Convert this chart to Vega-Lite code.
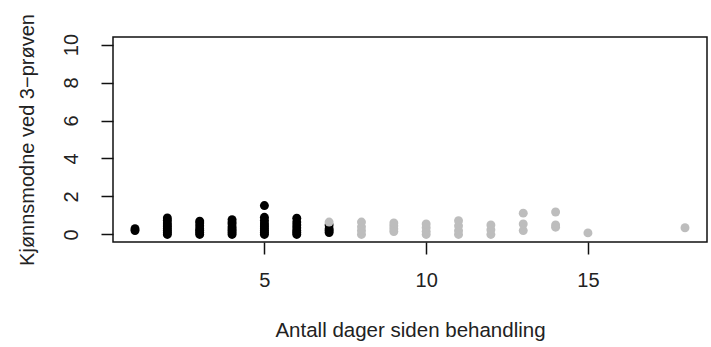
{
  "$schema": "https://vega.github.io/schema/vega-lite/v6.json",
  "width": 594,
  "height": 205,
  "autosize": {"type": "none"},
  "padding": {"left": 113, "top": 37, "right": 4, "bottom": 105},
  "background": "white",
  "config": {
    "view": {"stroke": "#111", "strokeWidth": 1.5},
    "font": "Liberation Sans"
  },
  "data": {
    "values": [
      {"dag": 1, "verdi": 0.2, "gruppe": "a"},
      {"dag": 1, "verdi": 0.3, "gruppe": "a"},
      {"dag": 2, "verdi": 0, "gruppe": "a"},
      {"dag": 2, "verdi": 0.1, "gruppe": "a"},
      {"dag": 2, "verdi": 0.2, "gruppe": "a"},
      {"dag": 2, "verdi": 0.3, "gruppe": "a"},
      {"dag": 2, "verdi": 0.4, "gruppe": "a"},
      {"dag": 2, "verdi": 0.5, "gruppe": "a"},
      {"dag": 2, "verdi": 0.6, "gruppe": "a"},
      {"dag": 2, "verdi": 0.75, "gruppe": "a"},
      {"dag": 2, "verdi": 0.87, "gruppe": "a"},
      {"dag": 3, "verdi": 0, "gruppe": "a"},
      {"dag": 3, "verdi": 0.1, "gruppe": "a"},
      {"dag": 3, "verdi": 0.2, "gruppe": "a"},
      {"dag": 3, "verdi": 0.3, "gruppe": "a"},
      {"dag": 3, "verdi": 0.45, "gruppe": "a"},
      {"dag": 3, "verdi": 0.6, "gruppe": "a"},
      {"dag": 3, "verdi": 0.7, "gruppe": "a"},
      {"dag": 4, "verdi": 0, "gruppe": "a"},
      {"dag": 4, "verdi": 0.1, "gruppe": "a"},
      {"dag": 4, "verdi": 0.2, "gruppe": "a"},
      {"dag": 4, "verdi": 0.3, "gruppe": "a"},
      {"dag": 4, "verdi": 0.4, "gruppe": "a"},
      {"dag": 4, "verdi": 0.55, "gruppe": "a"},
      {"dag": 4, "verdi": 0.65, "gruppe": "a"},
      {"dag": 4, "verdi": 0.78, "gruppe": "a"},
      {"dag": 5, "verdi": 0, "gruppe": "a"},
      {"dag": 5, "verdi": 0.1, "gruppe": "a"},
      {"dag": 5, "verdi": 0.2, "gruppe": "a"},
      {"dag": 5, "verdi": 0.3, "gruppe": "a"},
      {"dag": 5, "verdi": 0.4, "gruppe": "a"},
      {"dag": 5, "verdi": 0.5, "gruppe": "a"},
      {"dag": 5, "verdi": 0.6, "gruppe": "a"},
      {"dag": 5, "verdi": 0.75, "gruppe": "a"},
      {"dag": 5, "verdi": 0.9, "gruppe": "a"},
      {"dag": 5, "verdi": 1.52, "gruppe": "a"},
      {"dag": 6, "verdi": 0, "gruppe": "a"},
      {"dag": 6, "verdi": 0.1, "gruppe": "a"},
      {"dag": 6, "verdi": 0.2, "gruppe": "a"},
      {"dag": 6, "verdi": 0.35, "gruppe": "a"},
      {"dag": 6, "verdi": 0.5, "gruppe": "a"},
      {"dag": 6, "verdi": 0.65, "gruppe": "a"},
      {"dag": 6, "verdi": 0.85, "gruppe": "a"},
      {"dag": 7, "verdi": 0.1, "gruppe": "a"},
      {"dag": 7, "verdi": 0.2, "gruppe": "a"},
      {"dag": 7, "verdi": 0.3, "gruppe": "a"},
      {"dag": 7, "verdi": 0.5, "gruppe": "a"},
      {"dag": 7, "verdi": 0.65, "gruppe": "b"},
      {"dag": 8, "verdi": 0, "gruppe": "b"},
      {"dag": 8, "verdi": 0.2, "gruppe": "b"},
      {"dag": 8, "verdi": 0.4, "gruppe": "b"},
      {"dag": 8, "verdi": 0.65, "gruppe": "b"},
      {"dag": 9, "verdi": 0.15, "gruppe": "b"},
      {"dag": 9, "verdi": 0.3, "gruppe": "b"},
      {"dag": 9, "verdi": 0.45, "gruppe": "b"},
      {"dag": 9, "verdi": 0.6, "gruppe": "b"},
      {"dag": 10, "verdi": 0, "gruppe": "b"},
      {"dag": 10, "verdi": 0.15, "gruppe": "b"},
      {"dag": 10, "verdi": 0.35, "gruppe": "b"},
      {"dag": 10, "verdi": 0.55, "gruppe": "b"},
      {"dag": 11, "verdi": 0, "gruppe": "b"},
      {"dag": 11, "verdi": 0.2, "gruppe": "b"},
      {"dag": 11, "verdi": 0.45, "gruppe": "b"},
      {"dag": 11, "verdi": 0.72, "gruppe": "b"},
      {"dag": 12, "verdi": 0, "gruppe": "b"},
      {"dag": 12, "verdi": 0.25, "gruppe": "b"},
      {"dag": 12, "verdi": 0.5, "gruppe": "b"},
      {"dag": 13, "verdi": 0.2, "gruppe": "b"},
      {"dag": 13, "verdi": 0.55, "gruppe": "b"},
      {"dag": 13, "verdi": 1.12, "gruppe": "b"},
      {"dag": 14, "verdi": 0.38, "gruppe": "b"},
      {"dag": 14, "verdi": 0.5, "gruppe": "b"},
      {"dag": 14, "verdi": 1.18, "gruppe": "b"},
      {"dag": 15, "verdi": 0.08, "gruppe": "b"},
      {"dag": 18, "verdi": 0.35, "gruppe": "b"}
    ]
  },
  "mark": {"type": "circle", "size": 80, "opacity": 1},
  "encoding": {
    "x": {
      "field": "dag",
      "type": "quantitative",
      "scale": {"domain": [0.32, 18.68], "nice": false, "zero": false},
      "axis": {
        "title": "Antall dager siden behandling",
        "values": [5, 10, 15],
        "grid": false,
        "domain": false,
        "tickColor": "#111",
        "tickSize": 12,
        "tickWidth": 1.5,
        "labelFontSize": 20,
        "labelColor": "#222",
        "labelPadding": 16,
        "labelFont": "Liberation Sans",
        "titleFont": "Liberation Sans",
        "titleFontSize": 20.5,
        "titleFontWeight": "normal",
        "titleColor": "#222",
        "titlePadding": 30
      }
    },
    "y": {
      "field": "verdi",
      "type": "quantitative",
      "scale": {"domain": [-0.4, 10.4], "nice": false, "zero": false},
      "axis": {
        "title": "Kjønnsmodne ved 3−prøven",
        "values": [0, 2, 4, 6, 8, 10],
        "grid": false,
        "domain": false,
        "tickColor": "#111",
        "tickSize": 12,
        "tickWidth": 1.5,
        "labelAngle": 270,
        "labelAlign": "center",
        "labelBaseline": "bottom",
        "labelFontSize": 20,
        "labelColor": "#222",
        "labelPadding": 20,
        "labelFont": "Liberation Sans",
        "titleFont": "Liberation Sans",
        "titleFontSize": 20,
        "titleFontWeight": "normal",
        "titleColor": "#222",
        "titlePadding": 24
      }
    },
    "color": {
      "field": "gruppe",
      "type": "nominal",
      "scale": {"domain": ["a", "b"], "range": ["#000000", "#bdbdbd"]},
      "legend": null
    }
  }
}
